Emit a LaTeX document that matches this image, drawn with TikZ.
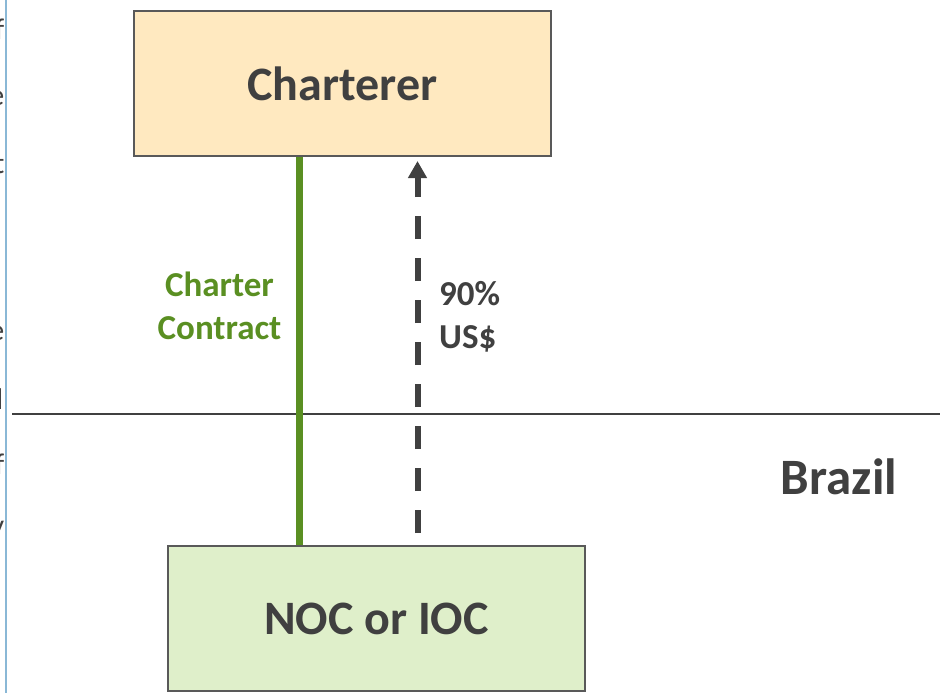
\documentclass[tikz,border=0pt]{standalone}
\usepackage{fontspec}
\setmainfont{Carlito}
\usetikzlibrary{arrows.meta}

\definecolor{ink}{HTML}{404040}
\definecolor{boxline}{HTML}{595959}
\definecolor{charterfill}{HTML}{FFE9C0}
\definecolor{nocfill}{HTML}{DFEFCA}
\definecolor{contractgreen}{HTML}{5A8F22}
\definecolor{marginblue}{HTML}{8AB8D6}

\tikzset{
  party/.style={draw=boxline, line width=2pt, minimum width=417pt,
    minimum height=145pt, inner sep=0pt, text=ink,
    font=\fontsize{48}{57}\selectfont\bfseries},
  contractline/.style={draw=contractgreen, line width=7pt},
  paymentline/.style={draw=ink, line width=6pt,
    dash pattern=on 23pt off 19pt, dash phase=30pt,
    -{Triangle[width=18pt,length=17pt]}},
  flowlabel/.style={inner sep=0pt, font=\fontsize{35}{43}\selectfont\bfseries},
  border/.style={draw=ink, line width=2pt},
  margintext/.style={anchor=base east, inner sep=0pt, text=ink,
    font=\fontsize{30}{36}\selectfont}
}

\begin{document}
\begin{tikzpicture}[x=1pt,y=-1pt]
  \useasboundingbox (0,0) rectangle (945,693);
  \clip (0,0) rectangle (945,693);

  % clipped text of the neighbouring column
  \node[margintext] (m1) at (4.5,40)  {f};
  \node[margintext] (m2) at (4.5,105) {e};
  \node[margintext] (m3) at (4.5,173) {t};
  \node[margintext] (m4) at (4.5,340) {e};
  \node[margintext] (m5) at (3.5,409) {l};
  \node[margintext] (m6) at (4.5,474) {f};
  \node[margintext] (m7) at (4.5,535) {y};
  \draw[draw=marginblue, line width=2pt] (6.3,0) -- (6.3,693);

  % country border
  \coordinate (bw) at (12,414);
  \coordinate (be) at (940,414);
  \draw[border] (bw) -- (be);

  % the two parties
  \node[party, fill=charterfill] (chart) at (342.5,83.5) {Charterer};
  \node[party, fill=nocfill] (noc) at (376.5,618.5) {NOC or IOC};

  % charter contract and payment flow
  \coordinate (gx) at (299.5,0);
  \coordinate (px) at (417.5,0);
  \draw[contractline] (chart.south -| gx) -- (noc.north -| gx);
  \draw[paymentline, shorten >=4pt] (noc.north -| px) -- (chart.south -| px);

  \node[flowlabel, text=contractgreen, align=center] (contract) at (219.5,306)
    {Charter\\Contract};
  \node[flowlabel, text=ink, align=left, anchor=west] (pay) at (439,317)
    {90\%\\US\$};

  \node[inner sep=0pt, text=ink, font=\fontsize{51}{61}\selectfont\bfseries]
    (brazil) at (839,477) {Brazil};
\end{tikzpicture}
\end{document}
